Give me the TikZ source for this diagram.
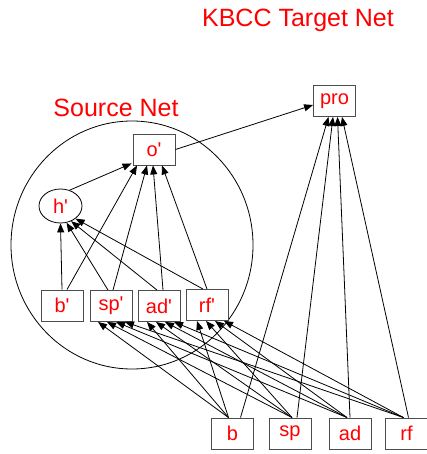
\documentclass[tikz,border=0pt]{standalone}
\usepackage{fontspec}
\setmainfont{Liberation Sans}[Ligatures=TeXOff]
\usetikzlibrary{arrows.meta,shapes.geometric}

\tikzset{
  unit/.style={draw=black!70, line width=0.9pt, text=red, minimum width=42pt,
    minimum height=31pt, inner sep=0pt, font=\fontsize{20}{20}\selectfont},
  hidden/.style={unit, draw=black, line width=0.8pt, ellipse, minimum width=43pt, minimum height=34pt},
  title/.style={text=red, anchor=base, inner sep=0pt, font=\fontsize{25}{25}\selectfont},
  link/.style={line width=0.8pt, -{Triangle[length=9pt,width=7pt]}}
}

\begin{document}
\begin{tikzpicture}[x=1pt, y=-1pt]
    \useasboundingbox (0,0) rectangle (427,454);

    % titles
    \node[title] (tgt) at (298,27) {KBCC Target Net};
    \node[title] (src) at (116,117) {Source Net};
    \draw[line width=0.8pt] (132,245) ellipse [x radius=121, y radius=124];

    % source net
    \node[unit] (op) at (154,149.5) {o'};
    \node[hidden] (hp) at (60.5,206) {h'};
    \node[unit] (bp) at (62,305.5) {b'};
    \node[unit] (spp) at (111,306) {sp'};
    \node[unit] (adp) at (159,306) {ad'};
    \node[unit] (rfp) at (207,305) {rf'};

    % target net
    \node[unit] (pro) at (334.5,101) {pro};
    \node[unit] (b) at (232.5,433.5) {b};
    \node[unit] (sp) at (290,433.5) {sp};
    \node[unit] (ad) at (350,433.5) {ad};
    \node[unit] (rf) at (406.5,433.5) {rf};

    \draw[link] (hp.60) -- ([xshift=-1pt, yshift=2pt]op.south west);
    \draw[link] (op.east) -- ([yshift=-4pt]pro.west);

    \draw[link] (bp.north) -- (hp.-90);
    \draw[link] ([xshift=-3pt]spp.north) -- (hp.-70);
    \draw[link] ([xshift=-2pt]adp.north) -- (hp.-55);
    \draw[link] ([xshift=-4pt]rfp.north) -- (hp.-40);

    \draw[link] ([xshift=5pt]bp.north) -- ([xshift=-17pt]op.south);
    \draw[link] ([xshift=2pt]spp.north) -- ([xshift=-7pt]op.south);
    \draw[link] ([xshift=4pt]adp.north) -- ([xshift=-1pt]op.south);
    \draw[link] (rfp.north) -- ([xshift=8pt]op.south);

    \foreach \src/\k/\ts/\tp in {b/0/-4/8, sp/1/2/7, ad/2/-3/0, rf/3/-3/2} {
        \draw[link] ([xshift=\ts pt]\src.north) -- ([xshift={-13pt+\k*9pt}]spp.south);
        \draw[link] ([xshift=\ts pt]\src.north) -- ([xshift={-12pt+\k*9pt}]adp.south);
        \draw[link] ([xshift=\ts pt]\src.north) -- ([xshift={-10pt+\k*9pt}]rfp.south);
        \draw[link] ([xshift=\tp pt]\src.north) -- ([xshift={-6pt+\k*4.5pt}]pro.south);
    }
\end{tikzpicture}
\end{document}
